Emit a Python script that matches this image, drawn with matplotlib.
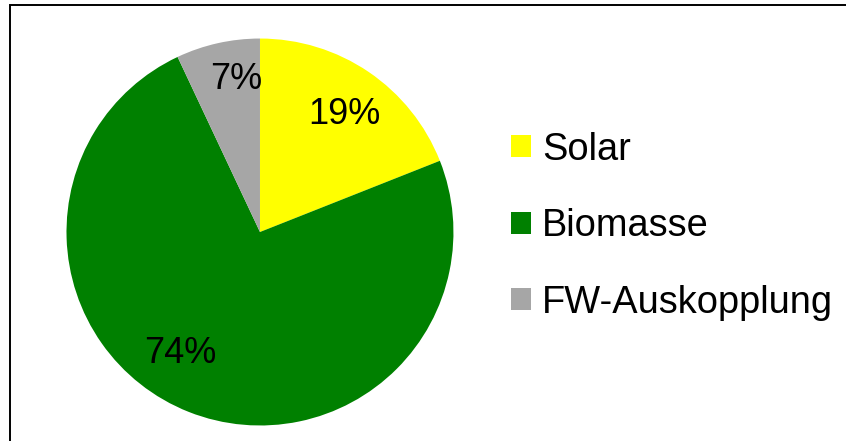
import matplotlib
matplotlib.use("Agg")
import matplotlib.pyplot as plt
from matplotlib.patches import Patch, Rectangle
import numpy as np

plt.rcParams['font.family'] = ['Liberation Sans', 'DejaVu Sans']

categories = ["Solar", "Biomasse", "FW-Auskopplung"]
values = [19, 74, 7]
colors = ["#FFFF00", "#008000", "#A6A6A6"]

fig = plt.figure(figsize=(8.46, 4.41), dpi=100)
ax = fig.add_axes([0.0786, 0.0351, 0.4574, 0.8776])
wedges, texts, autotexts = ax.pie(values, colors=colors, startangle=90, counterclock=False,
                                  autopct=lambda p: f"{p:.0f}%", pctdistance=0.76,
                                  textprops=dict(fontsize=26, color="black"),
                                  wedgeprops=dict(linewidth=0))
# Excel-like label placement tweaks (angle offsets in degrees, radius fraction)
adjust = [(-1.5, 0.745), (-11.5, 0.75), (-3.8, 0.80)]
for w, t, (da, r) in zip(wedges, autotexts, adjust):
    mid = np.deg2rad((w.theta1 + w.theta2) / 2 + da)
    t.set_position((r * np.cos(mid), r * np.sin(mid)))
ax.set_xlim(-1, 1)
ax.set_ylim(-1, 1)
ax.set_aspect("equal")
ax.axis("off")

handles = [Patch(facecolor=c, edgecolor="none") for c in colors]
fig.legend(handles, categories, loc="center left", bbox_to_anchor=(0.586, 0.487),
           frameon=False, fontsize=27.4, handlelength=0.52, handleheight=0.52,
           handletextpad=0.3, labelspacing=1.06, borderaxespad=0)

fig.patches.append(Rectangle((10 / 846, -0.1), 1.2, 436 / 441 + 0.1, transform=fig.transFigure,
                             fill=False, edgecolor="black", linewidth=1.4))
fig.savefig("out.png", dpi=100)
